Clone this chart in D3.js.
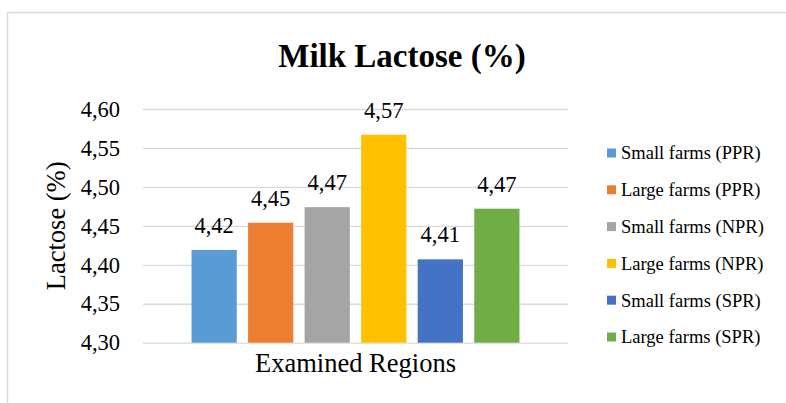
<!DOCTYPE html>
<html>
<head>
<meta charset="utf-8">
<script src="https://cdn.jsdelivr.net/npm/d3@7"></script>
<style>
  body { margin: 0; background: #fff; }
  svg text { font-family: "Liberation Serif", "Times New Roman", serif; }
</style>
</head>
<body>
<div class="chart"></div>
<script>
// chart values
const category = "Examined Regions";
const seriesNames = ["Small farms (PPR)", "Large farms (PPR)", "Small farms (NPR)",
    "Large farms (NPR)", "Small farms (SPR)", "Large farms (SPR)"];
const lactose = [4.419, 4.454, 4.474, 4.567, 4.407, 4.472];
const colors = ["#5b9bd5", "#ed7d31", "#a5a5a5", "#ffc000", "#4472c4", "#70ad47"];
const yTicks = [4.30, 4.35, 4.40, 4.45, 4.50, 4.55, 4.60];

const W = 786, H = 403;
const margin = { top: 109, right: 218, bottom: 60, left: 143 };
const width = W - margin.left - margin.right;
const height = 342.7 - margin.top;

const locale = d3.formatLocale({ decimal: ",", thousands: ".", grouping: [3], currency: ["", ""] });
const fmt = locale.format(".2f");

const svgRoot = d3.select(".chart")
    .append("svg")
    .attr("width", W)
    .attr("height", H);

// outer frame
svgRoot.append("rect")
    .attr("x", 7.5)
    .attr("y", 12.5)
    .attr("width", W)
    .attr("height", H)
    .attr("fill", "none")
    .attr("stroke", "#d9d9d9")
    .attr("stroke-width", 1.5);

// title
svgRoot.append("text")
    .attr("x", 402)
    .attr("y", 67)
    .attr("text-anchor", "middle")
    .style("font-size", "33px")
    .style("font-weight", "bold")
    .text("Milk Lactose (%)");

const svg = svgRoot.append("g")
    .attr("transform", `translate(${margin.left},${margin.top})`);

const yScale = d3.scaleLinear()
    .domain([4.30, 4.60])
    .range([height, 0]);

const x0 = d3.scaleBand()
    .domain([category])
    .range([0, width])
    .paddingInner(0)
    .paddingOuter(0.148);

const x1 = d3.scaleBand()
    .domain(seriesNames)
    .range([0, x0.bandwidth()])
    .paddingInner(0.2);

// gridlines
svg.append("g")
    .attr("class", "grid")
    .call(d3.axisLeft(yScale).tickValues(yTicks).tickSize(-width).tickFormat(""))
    .call(g => g.select(".domain").remove())
    .call(g => g.selectAll("line").attr("stroke", "#d9d9d9").attr("stroke-width", 1.3));

// y tick labels
svg.append("g")
    .call(d3.axisLeft(yScale).tickValues(yTicks).tickSize(0).tickPadding(23).tickFormat(fmt))
    .attr("font-family", null)
    .attr("font-size", null)
    .call(g => g.select(".domain").remove())
    .call(g => g.selectAll("text")
        .style("font-size", "22.5px")
        .attr("fill", "#000"));

// bars
const barG = svg.append("g").attr("transform", `translate(${x0(category)},0)`);

barG.selectAll("rect")
    .data(lactose)
    .enter()
    .append("rect")
    .attr("x", (d, i) => x1(seriesNames[i]))
    .attr("y", d => yScale(d))
    .attr("width", x1.bandwidth())
    .attr("height", d => height - yScale(d))
    .attr("fill", (d, i) => colors[i]);

// value labels
barG.selectAll(".val")
    .data(lactose)
    .enter()
    .append("text")
    .attr("class", "val")
    .attr("x", (d, i) => x1(seriesNames[i]) + x1.bandwidth() / 2)
    .attr("y", d => yScale(d) - 17)
    .attr("text-anchor", "middle")
    .style("font-size", "22.5px")
    .text(d => fmt(d));

// axis titles
svg.append("text")
    .attr("x", x0(category) + x0.bandwidth() / 2)
    .attr("y", height + 29)
    .attr("text-anchor", "middle")
    .style("font-size", "26.5px")
    .text(category);

svg.append("text")
    .attr("transform", `translate(${-78},${height / 2}) rotate(-90)`)
    .attr("text-anchor", "middle")
    .style("font-size", "26.5px")
    .text("Lactose (%)");

// legend
const legendY = d3.scalePoint()
    .domain(seriesNames)
    .range([153, 337]);

const legend = svgRoot.append("g")
    .selectAll("g")
    .data(seriesNames)
    .enter()
    .append("g")
    .attr("transform", d => `translate(607,${legendY(d)})`);

legend.append("rect")
    .attr("x", 0)
    .attr("y", -4.5)
    .attr("width", 9)
    .attr("height", 9)
    .attr("fill", (d, i) => colors[i]);

legend.append("text")
    .attr("x", 14)
    .attr("y", 0)
    .attr("dy", "0.35em")
    .style("font-size", "18.5px")
    .text(d => d);
</script>
</body>
</html>
